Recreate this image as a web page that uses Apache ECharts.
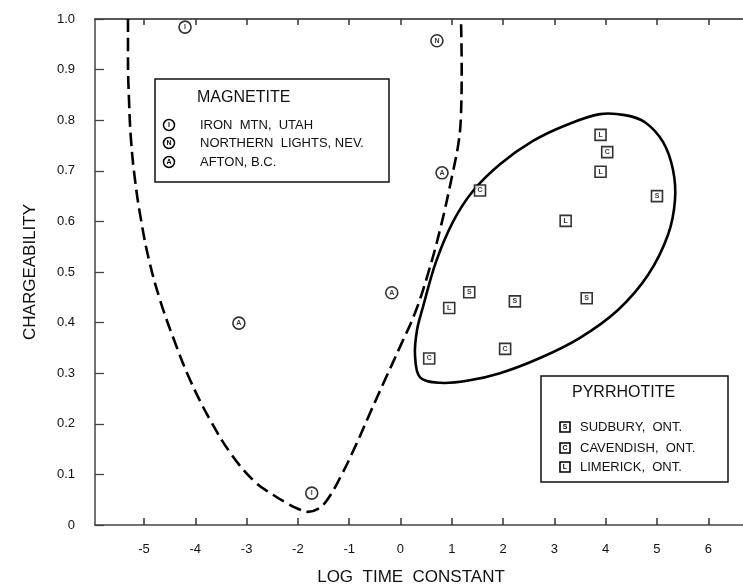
<!DOCTYPE html>
<html>
<head>
<meta charset="utf-8">
<script src="https://cdn.jsdelivr.net/npm/echarts@6/dist/echarts.min.js"></script>
<style>
html,body{margin:0;padding:0;background:#fff;}
#chart{width:743px;height:584px;}
</style>
</head>
<body>
<div id="chart"></div>
<script>
// ---- data ----
const xTickValues = [-5,-4,-3,-2,-1,0,1,2,3,4,5,6];
const yTickLabels = ['0','0.1','0.2','0.3','0.4','0.5','0.6','0.7','0.8','0.9','1.0'];

// Magnetite samples [log time constant, chargeability]
const ironMtn = [[-4.2,0.984],[-1.73,0.063]];
const northernLights = [[0.71,0.957]];
const afton = [[0.81,0.696],[-0.17,0.459],[-3.15,0.399]];

// Pyrrhotite samples
const sudbury = [[5.0,0.650],[1.34,0.460],[2.23,0.442],[3.63,0.448]];
const cavendish = [[4.03,0.737],[1.55,0.661],[2.04,0.348],[0.56,0.329]];
const limerick = [[3.9,0.771],[3.9,0.698],[3.22,0.601],[0.95,0.429]];

// Magnetite field boundary (dashed)
const magnetiteBoundary = [
 [-5.312,1.000],[-5.312,0.919],[-5.292,0.840],[-5.253,0.761],[-5.175,0.682],
 [-5.058,0.603],[-4.903,0.524],[-4.688,0.445],[-4.415,0.366],[-4.103,0.287],
 [-3.713,0.208],[-3.285,0.138],[-2.836,0.085],[-2.505,0.061],[-2.212,0.043],
 [-1.998,0.032],[-1.803,0.026],[-1.608,0.032],[-1.433,0.049],[-1.179,0.093],
 [-0.887,0.154],[-0.595,0.221],[-0.302,0.287],[-0.010,0.352],[0.283,0.419],
 [0.517,0.490],[0.770,0.583],[1.023,0.698],[1.140,0.761],[1.179,0.810],
 [1.193,0.905],[1.179,1.000]
];

// Pyrrhotite field boundary (closed)
const pyrrhotiteBoundary = [
 [0.380,0.292],[0.283,0.336],[0.322,0.385],[0.439,0.431],[0.692,0.520],
 [1.023,0.599],[1.413,0.660],[1.940,0.713],[2.583,0.759],[3.246,0.791],
 [3.889,0.812],[4.377,0.810],[4.766,0.796],[5.117,0.757],[5.312,0.702],
 [5.351,0.642],[5.214,0.573],[4.825,0.494],[4.240,0.425],[3.499,0.370],
 [2.719,0.330],[1.940,0.300],[1.296,0.285],[0.770,0.281]
];

const magnetiteLegend = ['IRON  MTN,  UTAH','NORTHERN  LIGHTS, NEV.','AFTON, B.C.'];
const pyrrhotiteLegend = ['SUDBURY,  ONT.','CAVENDISH,  ONT.','LIMERICK,  ONT.'];

// ---- chart ----
const FONT = 'Liberation Sans, Arial, sans-serif';
const chart = echarts.init(document.getElementById('chart'), null, {renderer:'canvas'});

function markerSeries(name, data, symbol, letter){
  return {
    type:'scatter', name, data, symbol,
    symbolSize: symbol === 'circle' ? 12 : 11,
    itemStyle:{color:'#fff', borderColor:'#000', borderWidth:1.6},
    label:{show:true, position:'inside', formatter:letter, fontSize:7, fontWeight:'bold', color:'#000', fontFamily:FONT},
    z:5
  };
}

function legendItem(x, y, shape, letter, text){
  const sym = shape === 'circle'
    ? {type:'circle', shape:{cx:x, cy:y, r:5.5}, style:{fill:'#fff', stroke:'#000', lineWidth:1.5}}
    : {type:'rect', shape:{x:x-5, y:y-5, width:10, height:10}, style:{fill:'#fff', stroke:'#000', lineWidth:1.6}};
  return [
    sym,
    {type:'text', x:x, y:y, style:{text:letter, fontSize:7, fontWeight:'bold', fill:'#000', align:'center', verticalAlign:'middle', fontFamily:FONT}},
    {type:'text', x:x+(shape==='circle'?31:15), y:y, style:{text:text, fontSize:13, fill:'#111', align:'left', verticalAlign:'middle', fontFamily:FONT}}
  ];
}

const graphics = [
  {type:'text', x:30, y:272, rotation:Math.PI/2, style:{text:'CHARGEABILITY', fontSize:17, fill:'#111', align:'center', verticalAlign:'middle', fontFamily:FONT}},
  {type:'text', x:411, y:577, style:{text:'LOG  TIME  CONSTANT', fontSize:17, fill:'#111', align:'center', verticalAlign:'middle', fontFamily:FONT}},
  {type:'rect', shape:{x:155, y:79, width:234, height:103}, style:{fill:'#fff', stroke:'#111', lineWidth:1.5}, z:10},
  {type:'text', x:197, y:98, style:{text:'MAGNETITE', fontSize:16, fill:'#111', align:'left', verticalAlign:'middle', fontFamily:FONT}, z:11},
  {type:'rect', shape:{x:541, y:376, width:187, height:106}, style:{fill:'#fff', stroke:'#111', lineWidth:1.5}, z:10},
  {type:'text', x:572, y:393, style:{text:'PYRRHOTITE', fontSize:16, fill:'#111', align:'left', verticalAlign:'middle', fontFamily:FONT}, z:11}
];
const magLetters = ['I','N','A'];
magnetiteLegend.forEach((t,i)=>{
  legendItem(169, [125,143,162][i], 'circle', magLetters[i], t).forEach(g=>{g.z=11; graphics.push(g);});
});
const pyrLetters = ['S','C','L'];
pyrrhotiteLegend.forEach((t,i)=>{
  legendItem(565, [427,448,467][i], 'rect', pyrLetters[i], t).forEach(g=>{g.z=11; graphics.push(g);});
});

const option = {
  animation:false,
  backgroundColor:'#fff',
  grid:{left:95, right:0, top:19, bottom:59, containLabel:false},
  xAxis:[{
    type:'value', min:-5.955, max:6.677, position:'bottom',
    axisLine:{show:true, onZero:false, lineStyle:{color:'#444', width:1.5}},
    axisTick:{show:true, inside:true, length:7, customValues:xTickValues, lineStyle:{color:'#333', width:1.5}},
    axisLabel:{show:true, customValues:xTickValues, margin:18, fontSize:13, color:'#111', fontFamily:FONT},
    splitLine:{show:false}
  },{
    type:'value', min:-5.955, max:6.677, position:'top',
    axisLine:{show:true, onZero:false, lineStyle:{color:'#222', width:1.5}},
    axisTick:{show:true, inside:true, length:6, customValues:xTickValues, lineStyle:{color:'#333', width:1.5}},
    axisLabel:{show:false},
    splitLine:{show:false}
  }],
  yAxis:{
    type:'value', min:0, max:1, interval:0.1,
    axisLine:{show:true, onZero:false, lineStyle:{color:'#444', width:1.5}},
    axisTick:{show:true, inside:true, length:9, lineStyle:{color:'#444', width:1.3}},
    axisLabel:{margin:20, fontSize:13, color:'#111', fontFamily:FONT,
      formatter:(v)=>yTickLabels[Math.round(v*10)]},
    splitLine:{show:false}
  },
  series:[
    {type:'line', data:magnetiteBoundary, smooth:0.4, symbol:'none', z:2,
      lineStyle:{color:'#000', width:2.6, type:[13,6]}},
    {type:'custom', data:[0], z:2,
      renderItem:(params, api)=>{
        const pts = pyrrhotiteBoundary.map(p=>api.coord(p));
        return {type:'polygon', shape:{points:pts, smooth:0.35}, style:{fill:'none', stroke:'#000', lineWidth:2.6}};
      }},
    markerSeries('Iron Mtn', ironMtn, 'circle', 'I'),
    markerSeries('Northern Lights', northernLights, 'circle', 'N'),
    markerSeries('Afton', afton, 'circle', 'A'),
    markerSeries('Sudbury', sudbury, 'rect', 'S'),
    markerSeries('Cavendish', cavendish, 'rect', 'C'),
    markerSeries('Limerick', limerick, 'rect', 'L')
  ],
  graphic:graphics
};
chart.setOption(option);
</script>
</body>
</html>
